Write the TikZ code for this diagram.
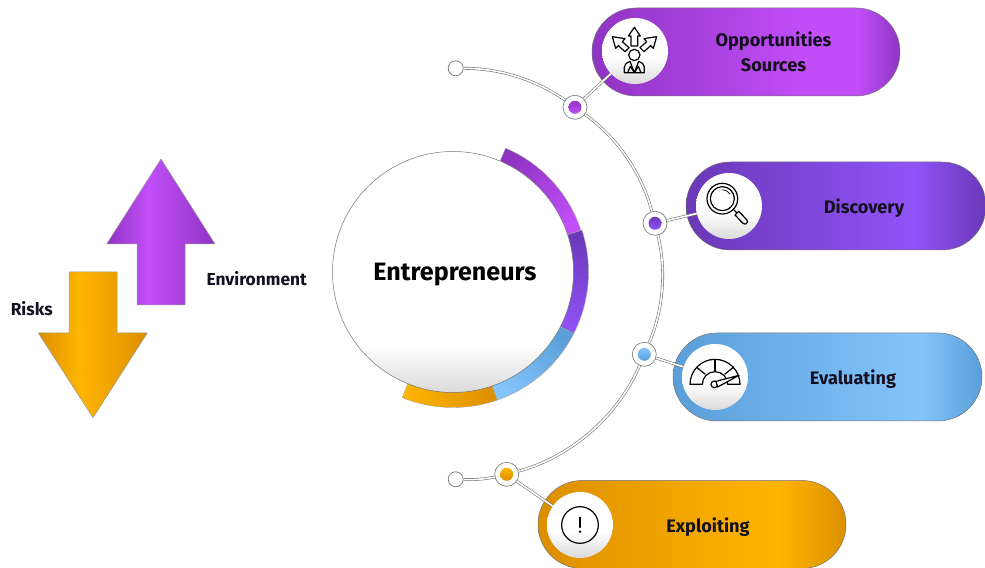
\documentclass[tikz,border=0pt]{standalone}
\usepackage{fontspec}
\setmainfont{Fira Sans}
\usetikzlibrary{shapes.misc}
\definecolor{pua}{HTML}{8F34C2}\definecolor{pub}{HTML}{C24EF9}
\definecolor{via}{HTML}{6A38B8}\definecolor{vib}{HTML}{9153F8}
\definecolor{bla}{HTML}{5A9FD9}\definecolor{blb}{HTML}{84C4FC}
\definecolor{ora}{HTML}{DC8F00}\definecolor{orb}{HTML}{FFB500}
\definecolor{fade}{HTML}{DADADA}\definecolor{ink}{HTML}{15101F}
\pgfdeclarehorizontalshading{pillpu}{100bp}{color(0bp)=(pua);color(25bp)=(pua);color(60bp)=(pub);color(68bp)=(pub);color(75bp)=(pua);color(100bp)=(pua)}
\pgfdeclarehorizontalshading{pillvi}{100bp}{color(0bp)=(via);color(25bp)=(via);color(63bp)=(vib);color(75bp)=(via);color(100bp)=(via)}
\pgfdeclarehorizontalshading{pillbl}{100bp}{color(0bp)=(bla);color(25bp)=(bla);color(65bp)=(blb);color(75bp)=(bla);color(100bp)=(bla)}
\pgfdeclarehorizontalshading{pillor}{100bp}{color(0bp)=(ora);color(25bp)=(ora);color(64bp)=(orb);color(75bp)=(ora);color(100bp)=(ora)}
\pgfdeclarehorizontalshading{arrowpu}{100bp}{color(0bp)=(pua);color(25bp)=(pua);color(44bp)=(pub);color(75bp)=(pua);color(100bp)=(pua)}
\pgfdeclarehorizontalshading{arrowor}{100bp}{color(0bp)=(ora);color(25bp)=(ora);color(44bp)=(orb);color(75bp)=(ora);color(100bp)=(ora)}
\pgfdeclareverticalshading{iconfade}{100bp}{color(0bp)=(fade);color(25bp)=(fade);color(45bp)=(white);color(100bp)=(white)}
\pgfdeclareverticalshading{mainfade}{100bp}{color(0bp)=(fade);color(25bp)=(fade);color(35bp)=(white);color(100bp)=(white)}
\tikzset{
  pill/.style={rounded rectangle,minimum width=#1,minimum height=88bp,inner sep=0pt,draw=black!55,line width=.5pt},
  iconball/.style={circle,minimum size=66bp,inner sep=0pt,shade,shading=iconfade},
  hub/.style={circle,minimum size=24bp,inner sep=0pt,fill=white,draw=black!50,line width=.7pt},
  tip/.style={circle,minimum size=15bp,inner sep=0pt,fill=white,draw=black!55,line width=.7pt},
  dot/.style={circle,minimum size=13bp,inner sep=0pt,shade},
  rail/.style={draw=black!55,double=white,double distance=1.6pt,line width=.6pt},
  bend/.style={bend left=#1,looseness=.86},
  pilltext/.style={font=\fontsize{18.2}{25}\selectfont\bfseries,text=ink,align=center,inner sep=0pt},
  sidetext/.style={font=\fontsize{17.4}{20}\selectfont\bfseries,text=ink,inner sep=0pt},
  glyph/.style={draw=black,line width=1.2pt,line join=round},
  seg/.style={draw=black!35,line width=.4pt},
  bigarrow/.style={draw=black!40,line width=.5pt,line join=miter}
}
\begin{document}
\begin{tikzpicture}[x=1bp,y=1bp]
\useasboundingbox (0,0) rectangle (985,568);
% arrows
\shade[bigarrow,shading=arrowpu] (161,409) -- (215,324) -- (185,324) -- (185,263) -- (137,263) -- (137,324) -- (106.7,324) -- cycle;
\shade[bigarrow,shading=arrowor] (93,150.3) -- (147.3,235) -- (117,235) -- (117,296) -- (69,296) -- (69,235) -- (38.3,235) -- cycle;
\node[sidetext] (envlabel) at (256.7,289) {Environment};
\node[sidetext] (risklabel) at (31.7,259) {Risks};
% ring
\begin{scope}[shift={(453,296)}]
\shade[seg,top color=pua,bottom color=pub,shading angle=40] (67:134.5) arc[start angle=67,end angle=18,radius=134.5] -- (18:118) arc[start angle=18,end angle=67,radius=118] -- cycle;
\shade[seg,top color=via,bottom color=vib] (18:135.5) arc[start angle=18,end angle=-27,radius=135.5] -- (-27:118) arc[start angle=-27,end angle=18,radius=118] -- cycle;
\shade[seg,top color=bla,bottom color=blb,shading angle=-40] (-27:135.5) arc[start angle=-27,end angle=-71,radius=135.5] -- (-71:118) arc[start angle=-71,end angle=-27,radius=118] -- cycle;
\shade[seg,left color=orb,right color=ora] (-71:135.5) arc[start angle=-71,end angle=-112,radius=135.5] -- (-112:118) arc[start angle=-112,end angle=-71,radius=118] -- cycle;
\end{scope}
\node[circle,minimum size=241bp,inner sep=0pt,shade,shading=mainfade,draw=black!55,line width=.5pt] (main) at (453,296) {};
\node[font=\fontsize{25.2}{28}\selectfont\bfseries,text=black,inner sep=0pt] (mainlabel) at (455,293.5) {Entrepreneurs};
% pills
\node[pill=308bp,shade,shading=pillpu] (p1) at (746,516) {};
\node[pill=300bp,shade,shading=pillvi] (p2) at (836,362) {};
\node[pill=309bp,shade,shading=pillbl] (p3) at (827.5,191) {};
\node[pill=308bp,shade,shading=pillor] (p4) at (692,43.5) {};
\node[pilltext] (t1) at (773.5,516) {Opportunities\\Sources};
\node[pilltext] (t2) at (864,359.5) {Discovery};
\node[pilltext] (t3) at (853,189) {Evaluating};
\node[pilltext] (t4) at (708,40.5) {Exploiting};
\node[iconball] (i1) at (635,517) {};
\node[iconball] (i2) at (729,362) {};
\node[iconball] (i3) at (715,191) {};
\node[iconball] (i4) at (580,43) {};
% hubs
\node[tip] (s) at (455.7,499.7) {};
\node[tip] (e) at (455.7,88.7) {};
\node[hub] (n1) at (575,460.7) {};
\node[hub] (n2) at (655,344.7) {};
\node[hub] (n3) at (644.3,213.7) {};
\node[hub] (n4) at (506.7,93.7) {};
\node[dot,top color=pua,bottom color=pub] (d1) at (n1) {};
\node[dot,top color=via,bottom color=vib] (d2) at (n2) {};
\node[dot,top color=blb,bottom color=bla] (d3) at (n3) {};
\node[dot,top color=orb,bottom color=ora] (d4) at (n4) {};
% rail
\draw[rail] (s) to[bend=17.7] (n1);
\draw[rail] (n1) to[bend=19.8] (n2);
\draw[rail] (n2) to[bend=18.4] (n3);
\draw[rail] (n3) to[bend=26.1] (n4);
\draw[rail] (n4) to[bend=7.1] (e);
\draw[rail] (n1) -- (i1);
\draw[rail] (n2) -- (i2);
\draw[rail] (n3) -- (i3);
\draw[rail] (n4) -- (i4);
% icon 1
\begin{scope}[shift={(635,517)},xscale=1/3,yscale=-1/3]
\draw[glyph] (-2,-71) -- (16,-45) -- (8,-45) -- (8,-15) -- (-12,-15) -- (-12,-45) -- (-20,-45) -- cycle;
\draw[glyph] (-68,-43) -- (-30,-37) -- (-38,-28) -- (-18,-10) -- (-30,2) -- (-50,-16) -- (-58,-8) -- cycle;
\draw[glyph] (65,-43) -- (27,-37) -- (35,-28) -- (15,-10) -- (27,2) -- (47,-16) -- (55,-8) -- cycle;
\draw[glyph] (-2,12) circle[radius=17];
\draw[glyph] (-32,65) -- (-32,48) .. controls (-32,38) and (-24,36) .. (-15,31) -- (-2,65) -- (11,31) .. controls (20,36) and (28,38) .. (28,48) -- (28,65) -- cycle;
\draw[glyph] (-2,65) -- (-14,46) -- (-22,65) (-2,65) -- (10,46) -- (18,65);
\end{scope}
% icon 2
\begin{scope}[shift={(729,362)},xscale=1/3,yscale=-1/3]
\draw[glyph] (-20,-22) circle[radius=46];
\draw[glyph] (-20,-22) circle[radius=36];
\draw[glyph,line width=.7pt] (-20,-49) arc[start angle=-90,end angle=-30,radius=27];
\draw[glyph] (14,11) -- (24,21);
\draw[glyph] (18,27) -- (42,52) .. controls (50,59) and (60,48) .. (53,41) -- (29,16) -- cycle;
\end{scope}
% icon 3
\begin{scope}[shift={(715,191)},xscale=1/3,yscale=-1/3]
\draw[glyph] (-75,22) arc[start angle=180,end angle=360,radius=75] -- (38,22) arc[start angle=360,end angle=180,radius=38] -- cycle;
\draw[glyph] (0,-53) -- (0,-16);
\draw[glyph] (-55,-29) -- (-29,-8);
\draw[glyph] (55,-29) -- (29,-8);
\draw[glyph,fill=white] (-2,22) circle[radius=10];
\draw[glyph,fill=white] (3,13) -- (72,-5) -- (8,30) -- cycle;
\end{scope}
% icon 4
\begin{scope}[shift={(580,43)},xscale=1/3,yscale=-1/3]
\draw[glyph] (0,0) circle[radius=55];
\draw[glyph,line width=1.4pt,line cap=round] (0,-23) -- (0,7);
\fill (0,20) circle[radius=4];
\end{scope}
\end{tikzpicture}
\end{document}
